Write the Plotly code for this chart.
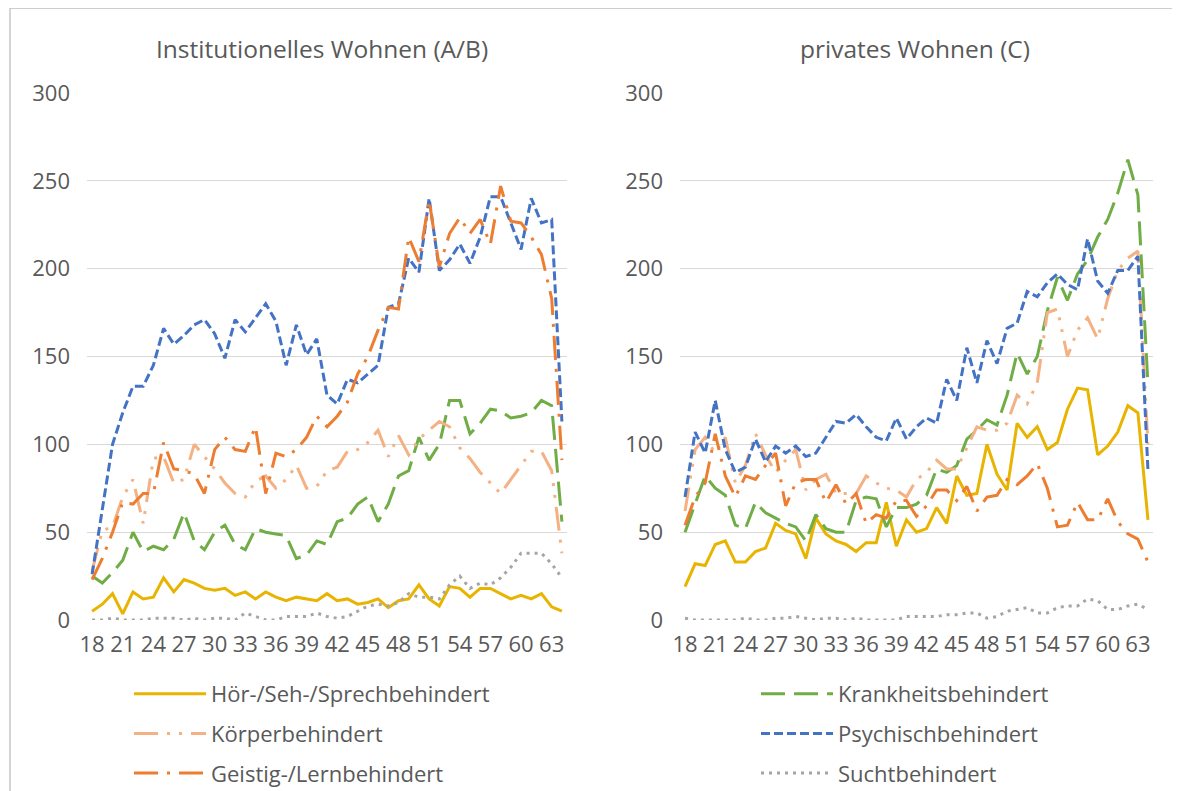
import plotly.graph_objects as go

ages = list(range(18, 65))
tick_ages = list(range(18, 64, 3))

# ---- Institutionelles Wohnen (A/B) ----
inst_hoer = [5, 9, 15, 3.5, 16, 12, 13, 24, 16, 23, 21, 18, 17, 18, 14, 16, 12, 16, 13, 11, 13, 12, 11, 15,
             11, 12, 9, 10, 12, 7, 11, 12, 20, 12, 8, 19, 18, 13, 18, 18, 15, 12, 14, 12, 15, 7.5, 5]
inst_krank = [25, 21, 27, 34, 50, 39, 42, 40, 46, 61, 45, 40, 50, 54, 43, 40, 52, 50, 49, 48, 35, 37, 45, 43,
              56, 58, 66, 70, 56, 66, 82, 85, 104, 91, 100, 125, 125, 106, 112, 120, 119, 115, 116, 118, 125, 122, 56]
inst_koerper = [28, 51, 53, 70, 80, 55, 92, 93, 78, 80, 100, 93, 86, 78, 72, 70, 79, 82, 75, 80, 88, 75, 76, 85,
                87, 96, 97, 101, 108, 93, 105, 94, 103, 108, 113, 110, 98, 92, 84, 78, 72, 80, 88, 96, 96, 85, 38]
inst_psych = [26, 62, 100, 118, 133, 133, 145, 166, 157, 162, 168, 171, 163, 149, 171, 164, 172, 180, 170, 145,
              168, 151, 160, 128, 123, 137, 135, 140, 145, 178, 180, 206, 198, 240, 199, 205, 214, 203, 218, 241,
              241, 226, 211, 240, 226, 228, 113]
inst_geistig = [23, 35, 50, 67, 66, 72, 72, 101, 86, 85, 83, 72, 97, 104, 97, 96, 110, 72, 95, 93, 97, 104, 116,
                110, 116, 124, 140, 150, 165, 178, 177, 218, 204, 239, 201, 220, 229, 220, 228, 214, 247, 227, 226,
                218, 208, 183, 91]
inst_sucht = [0, 0, 1, 0, 0, 0, 1, 1, 1, 0, 1, 0, 1, 1, 0, 4, 2, 0, 0, 2, 2, 2, 4, 2, 1, 2, 5, 8, 9, 8, 10, 15,
              13, 13, 12, 20, 25, 18, 21, 20, 24, 30, 38, 38, 38, 32, 24]

# ---- privates Wohnen (C) ----
priv_hoer = [19, 32, 31, 43, 45, 33, 33, 39, 41, 55, 51, 49, 35, 58, 49, 45, 43, 39, 44, 44, 67, 42, 57, 50, 52,
             64, 55, 82, 71, 72, 100, 83, 74, 112, 104, 110, 97, 101, 120, 132, 131, 94, 99, 107, 122, 118, 57]
priv_krank = [50, 66, 82, 75, 71, 54, 52, 67, 61, 58, 55, 53, 45, 60, 52, 50, 50, 68, 70, 69, 53, 64, 64, 66, 71,
              86, 84, 88, 103, 108, 114, 111, 128, 152, 140, 150, 176, 195, 182, 197, 205, 218, 228, 243, 262, 242, 134]
priv_koerper = [62, 97, 104, 95, 104, 78, 88, 106, 94, 84, 91, 97, 74, 80, 83, 72, 72, 72, 82, 78, 75, 74, 70, 80,
                84, 91, 86, 86, 98, 110, 108, 108, 112, 128, 123, 135, 175, 177, 150, 165, 172, 160, 183, 199, 206,
                210, 100]
priv_psych = [70, 107, 95, 125, 97, 84, 87, 103, 90, 99, 95, 99, 93, 95, 104, 113, 112, 117, 110, 104, 102, 115,
              103, 110, 115, 112, 137, 125, 155, 135, 159, 146, 166, 169, 187, 184, 192, 197, 191, 188, 217, 193, 186,
              199, 199, 207, 85]
priv_geistig = [54, 70, 78, 106, 82, 70, 82, 80, 88, 95, 65, 78, 80, 80, 67, 77, 66, 72, 55, 60, 58, 68, 68, 59,
                65, 74, 74, 68, 76, 62, 70, 71, 80, 77, 82, 89, 75, 53, 54, 67, 57, 57, 69, 56, 49, 46, 33]
priv_sucht = [1, 0, 0, 0, 0, 0, 1, 0, 0, 1, 1, 2, 1, 0, 1, 1, 0, 1, 0, 0, 0, 0, 2, 2, 2, 2, 3, 3, 4, 4, 1, 2, 5, 6,
              7, 4, 4, 7, 8, 8, 12, 11, 6, 6, 8, 9, 6]

names = ["Hör-/Seh-/Sprechbehindert", "Krankheitsbehindert", "Körperbehindert",
         "Psychischbehindert", "Geistig-/Lernbehindert", "Suchtbehindert"]
colors = ["#E8B400", "#70AD47", "#F4B183", "#4472C4", "#ED7D31", "#A5A5A5"]
dashes = ["solid", "24px,9px", "24px,9px,3px,9px,3px,9px", "9px,4px", "24px,9px,3px,9px", "3px,5px"]
legends = ["legend", "legend2", "legend", "legend2", "legend", "legend2"]

inst = [inst_hoer, inst_krank, inst_koerper, inst_psych, inst_geistig, inst_sucht]
priv = [priv_hoer, priv_krank, priv_koerper, priv_psych, priv_geistig, priv_sucht]

# page body adds an 8px offset; size the figure to fit the window exactly
OFF = 8
W, H = 1180 - OFF, 791 - OFF
fig = go.Figure()

for i in range(6):
    fig.add_trace(go.Scatter(x=ages, y=inst[i], name=names[i], mode="lines",
                             line=dict(color=colors[i], width=3, dash=dashes[i]),
                             xaxis="x", yaxis="y", legend=legends[i], legendgroup=names[i],
                             showlegend=True))
for i in range(6):
    fig.add_trace(go.Scatter(x=ages, y=priv[i], name=names[i], mode="lines",
                             line=dict(color=colors[i], width=3, dash=dashes[i]),
                             xaxis="x2", yaxis="y2", legendgroup=names[i], showlegend=False))

txt = "#595959"
fnt = "Open Sans"
grid = "#D9D9D9"

def px_x(p):
    return (p - OFF) / W

def px_y(p):
    return 1 - (p - OFF) / H

xcommon = dict(range=[17.5, 64.5], tickmode="array", tickvals=tick_ages,
               ticktext=[str(a) for a in tick_ages], showgrid=False, zeroline=False,
               showline=False, ticks="", tickfont=dict(family=fnt, size=22, color=txt),
               ticklabelstandoff=9, fixedrange=True, automargin=False)
ycommon = dict(range=[0, 300], tickvals=[0, 50, 100, 150, 200, 250, 300], showgrid=True,
               gridcolor=grid, gridwidth=1.3, zeroline=False, showline=False, ticks="",
               tickfont=dict(family=fnt, size=22, color=txt), ticklabelstandoff=16,
               fixedrange=True, automargin=False)

legfont = dict(family=fnt, size=22, color=txt)

fig.update_layout(
    width=W, height=H,
    margin=dict(l=0, r=0, t=0, b=0, autoexpand=False),
    paper_bgcolor="white", plot_bgcolor="white",
    font=dict(family=fnt, color=txt),
    xaxis=dict(domain=[px_x(87), px_x(567)], anchor="y", **xcommon),
    yaxis=dict(domain=[px_y(620), px_y(93)], anchor="x", **ycommon),
    xaxis2=dict(domain=[px_x(680), px_x(1153)], anchor="y2", **xcommon),
    yaxis2=dict(domain=[px_y(620), px_y(93)], anchor="x2", **ycommon),
    legend=dict(x=px_x(129), y=px_y(673), xanchor="left", yanchor="top",
                orientation="v", font=legfont,
                itemwidth=72, tracegroupgap=8, bgcolor="rgba(0,0,0,0)"),
    legend2=dict(x=px_x(756), y=px_y(673), xanchor="left", yanchor="top",
                 orientation="v", font=legfont,
                 itemwidth=72, tracegroupgap=8, bgcolor="rgba(0,0,0,0)"),
    annotations=[
        dict(text="Institutionelles Wohnen (A/B)", x=px_x(322), y=px_y(48), xref="paper",
             yref="paper", xanchor="center", yanchor="middle", showarrow=False,
             font=dict(family=fnt, size=24.5, color=txt)),
        dict(text="privates Wohnen (C)", x=px_x(915), y=px_y(48), xref="paper",
             yref="paper", xanchor="center", yanchor="middle", showarrow=False,
             font=dict(family=fnt, size=24.5, color=txt)),
    ],
    shapes=[
        dict(type="rect", xref="paper", yref="paper", x0=px_x(10), x1=px_x(1177),
             y0=px_y(805), y1=px_y(8), line=dict(color="#BFBFBF", width=1.3),
             fillcolor="rgba(0,0,0,0)", layer="below"),
    ],
)

fig.write_html("out.html")
